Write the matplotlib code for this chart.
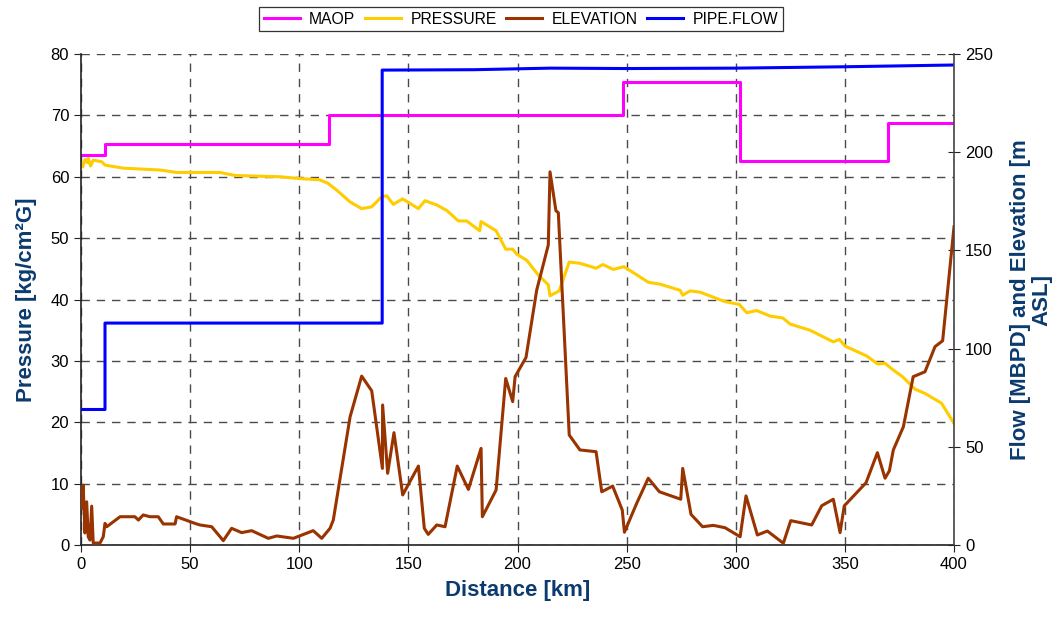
import matplotlib
matplotlib.use('Agg')
import matplotlib.pyplot as plt

plt.rcParams['font.family'] = ['Liberation Sans', 'DejaVu Sans']

# ---- data ----
maop_km = [0, 11, 11, 113.8, 113.8, 248.2, 248.2, 302, 302, 369.9, 369.9, 400]
maop = [63.5, 63.5, 65.3, 65.3, 70.0, 70.0, 75.5, 75.5, 62.5, 62.5, 68.7, 68.7]

pres_km = [0, 0.8, 1.8, 3.0, 3.3, 4.4, 5.6, 7.2, 9.5, 11.0, 19.4, 36.2, 43.8, 63.7, 70.6,
           91.2, 100.3, 109.5, 113.3, 117.2, 123.3, 128.6, 133.2, 137.8, 140.1, 143.1,
           147.4, 154.6, 157.6, 163.0, 167.6, 172.9, 176.7, 182.7, 183.3, 190.2, 194.6,
           197.8, 199.6, 204.2, 209.5, 214.1, 214.9, 219.1, 223.7, 228.6, 236.0, 239.1,
           243.9, 248.8, 260.0, 265.3, 274.5, 275.7, 279.1, 283.6, 295.1, 301.6, 305.0,
           309.6, 315.7, 321.5, 324.9, 334.0, 344.7, 347.5, 350.1, 360.0, 365.0, 368.4,
           372.2, 376.5, 382.1, 386.7, 394.3, 400]
pressure = [62.2, 61.6, 62.8, 62.3, 63.0, 61.75, 62.7, 62.6, 62.45, 61.9, 61.4, 61.1, 60.7,
            60.7, 60.2, 60.0, 59.7, 59.5, 58.9, 57.8, 55.9, 54.8, 55.1, 56.75, 56.9, 55.5,
            56.4, 54.8, 56.1, 55.4, 54.5, 52.8, 52.8, 51.2, 52.7, 51.2, 48.2, 48.2, 47.4,
            46.4, 44.0, 42.4, 40.6, 41.4, 46.1, 45.9, 45.1, 45.7, 44.9, 45.35, 42.8, 42.5,
            41.5, 40.7, 41.4, 41.2, 39.65, 39.2, 37.85, 38.2, 37.3, 37.0, 36.0, 35.0, 33.1,
            33.5, 32.4, 30.8, 29.5, 29.6, 28.5, 27.4, 25.4, 24.7, 23.1, 19.8]

elev_km = [0, 1.0, 1.8, 2.6, 3.3, 4.1, 4.9, 5.6, 8.7, 10.2, 11.0, 11.8, 17.9, 24.7, 26.3,
           28.5, 31.6, 35.4, 37.7, 43.1, 43.8, 52.2, 54.5, 59.9, 65.2, 69.0, 73.6, 78.2,
           85.8, 89.7, 97.3, 106.4, 110.3, 114.1, 115.6, 123.3, 128.6, 133.2, 138.1, 138.2,
           140.5, 143.4, 147.4, 154.6, 157.3, 159.1, 163.0, 166.8, 172.4, 177.5, 183.3,
           183.9, 190.2, 194.6, 197.8, 198.9, 203.9, 208.8, 214.1, 214.9, 217.6, 218.7,
           223.7, 228.6, 236.0, 238.6, 243.6, 248.0, 249.0, 254.6, 259.9, 265.0, 274.8,
           275.7, 279.5, 284.8, 289.7, 295.1, 302.0, 304.7, 309.9, 314.5, 321.8, 325.2,
           334.8, 339.4, 344.7, 347.8, 349.7, 359.7, 364.9, 368.4, 370.4, 372.2, 376.8,
           381.3, 386.7, 391.3, 394.8, 400]
elevation = [18.7, 30.5, 6.1, 22, 4.2, 2.5, 19.8, 1, 1, 4.2, 11, 9.3, 14.4, 14.4, 12.7,
             15.3, 14.4, 14.4, 10.7, 10.7, 14.4, 11, 10.2, 9.3, 2.2, 8.5, 6.3, 7.3, 3.4,
             4.6, 3.4, 7.3, 3.4, 8.5, 12.7, 65.3, 86, 78.5, 39, 71.3, 36.5, 57.2, 25.5,
             40.2, 8.5, 5.4, 10.2, 9.3, 40.2, 28.3, 49.2, 14.4, 28, 84.8, 73, 85.7, 95.5,
             129.8, 152.7, 190, 170.2, 169.2, 56, 48.4, 47.5, 27.1, 30, 17.8, 6.5, 21.2, 34,
             27.1, 23.3, 39, 15.6, 9.3, 10, 8.8, 4.2, 25, 5.1, 7.1, 0.9, 12.4, 10.2, 20,
             23.3, 6.3, 19.9, 31.7, 47, 34, 37.8, 48.4, 60.2, 85.7, 88.2, 101, 104, 162]

flow_km = [0, 11, 11, 138, 138, 180, 215, 250, 300, 350, 400]
flow = [69, 69, 113, 113, 241.8, 242.0, 242.8, 242.6, 242.8, 243.5, 244.4]

x_ticks = [0, 50, 100, 150, 200, 250, 300, 350, 400]
left_ticks = [0, 10, 20, 30, 40, 50, 60, 70, 80]
right_ticks = [0, 50, 100, 150, 200, 250]

label_color = '#0B3A6E'

fig = plt.figure(figsize=(10.55, 6.22), dpi=100)
ax1 = fig.add_axes([81/1055, 1-545/622, (954-81)/1055, (545-54)/622])
ax2 = ax1.twinx()

l_maop, = ax1.plot(maop_km, maop, color='#FF00FF', lw=2.2, label='MAOP')
l_pres, = ax1.plot(pres_km, pressure, color='#FFCC00', lw=2.2, label='PRESSURE')
l_elev, = ax2.plot(elev_km, elevation, color='#993300', lw=2.2, label='ELEVATION')
l_flow, = ax2.plot(flow_km, flow, color='#0000FF', lw=2.2, label='PIPE.FLOW')

ax1.set_xlim(0, 400)
ax1.set_ylim(0, 80)
ax2.set_ylim(0, 250)
ax1.set_xticks(x_ticks)
ax1.set_yticks(left_ticks)
ax2.set_yticks(right_ticks)

ax1.grid(True, color='#4a4a4a', linestyle=(0, (6, 5)), linewidth=1.0)
ax1.set_axisbelow(True)

for ax in (ax1, ax2):
    ax.spines['top'].set_visible(False)
ax2.spines['left'].set_visible(False)
ax2.spines['bottom'].set_visible(False)
ax1.spines['right'].set_visible(False)
for sp in ('left', 'bottom'):
    ax1.spines[sp].set_color('#222222')
    ax1.spines[sp].set_linewidth(1.2)
ax2.spines['right'].set_color('#444444')
ax2.spines['right'].set_linewidth(1.2)

ax1.tick_params(axis='both', direction='out', length=5, labelsize=12, color='#222222')
ax2.tick_params(axis='y', direction='inout', length=9, labelsize=12, color='#222222')

ax1.set_xlabel('Distance [km]', fontsize=16, fontweight='bold', color=label_color, labelpad=6)
ax1.set_ylabel('Pressure [kg/cm²G]', fontsize=16, fontweight='bold', color=label_color, labelpad=10)
ax2.set_ylabel('Flow [MBPD] and Elevation [m\nASL]', fontsize=16, fontweight='bold',
               color=label_color, labelpad=12, multialignment='center', linespacing=1.05)

leg = fig.legend([l_maop, l_pres, l_elev, l_flow], ['MAOP', 'PRESSURE', 'ELEVATION', 'PIPE.FLOW'],
                 loc='center', bbox_to_anchor=(521/1055, 1-19/622), ncol=4, frameon=True,
                 fancybox=False, edgecolor='black', fontsize=11.3, handlelength=2.3,
                 columnspacing=0.6, handletextpad=0.6, borderpad=0.3, borderaxespad=0)
leg.get_frame().set_linewidth(0.9)

fig.savefig('out.png', dpi=100)
